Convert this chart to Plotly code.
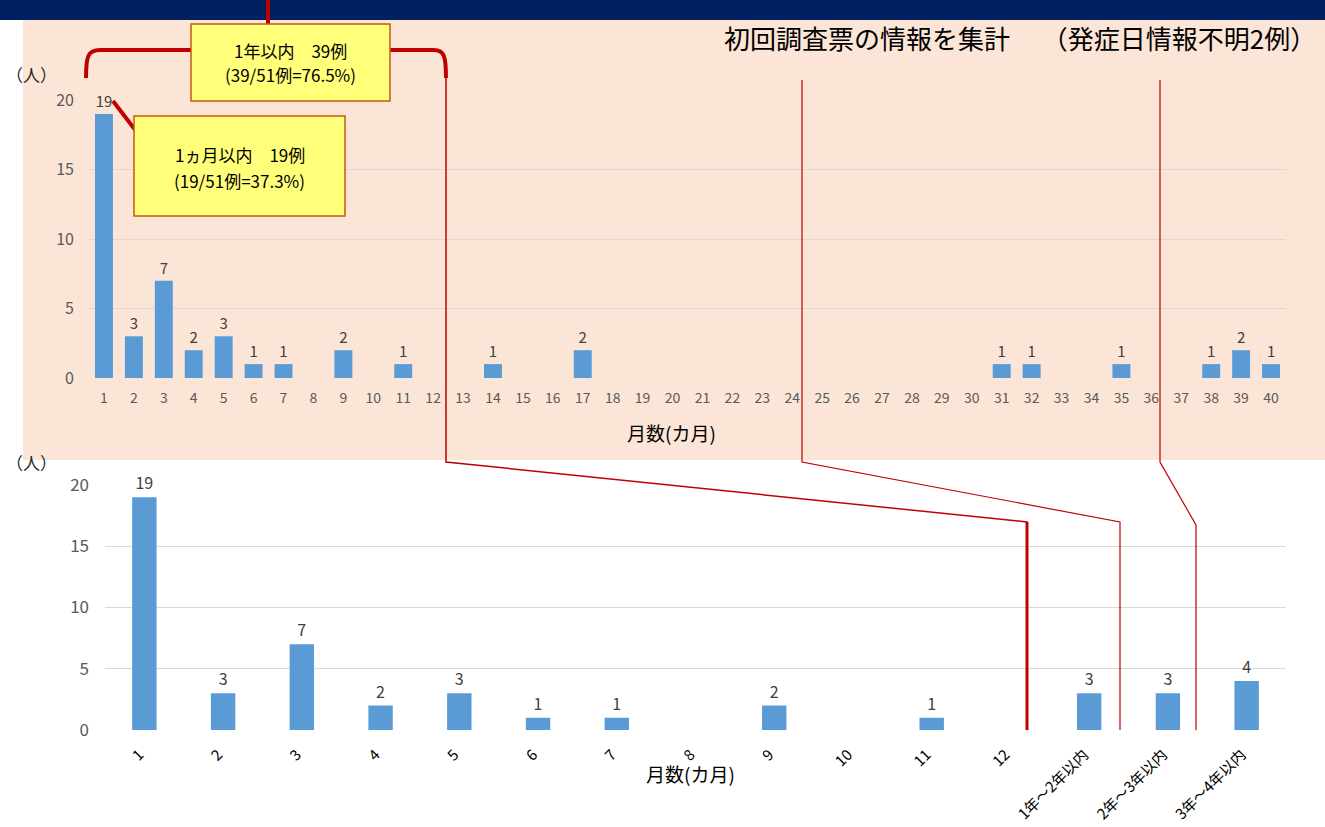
import plotly.graph_objects as go

W, H = 1325, 827

# ---- data ----
top_months = [str(i) for i in range(1, 41)]
top_counts = [19, 3, 7, 2, 3, 1, 1, 0, 2, 0, 1, 0, 0, 1, 0, 0, 2, 0, 0, 0,
              0, 0, 0, 0, 0, 0, 0, 0, 0, 0, 1, 1, 0, 0, 1, 0, 0, 1, 2, 1]
bottom_labels = [str(i) for i in range(1, 13)] + ["1年～2年以内", "2年～3年以内", "3年～4年以内"]
bottom_counts = [19, 3, 7, 2, 3, 1, 1, 0, 2, 0, 1, 0, 3, 3, 4]
y_ticks = [0, 5, 10, 15, 20]

title_text = "初回調査票の情報を集計　 （発症日情報不明2例）"
box1_lines = ["1年以内　39例", "(39/51例=76.5%)"]
box2_lines = ["1ヵ月以内　19例", "(19/51例=37.3%)"]
x_title = "月数(カ月)"
y_unit = "（人）"

JP = "Noto Sans CJK JP"
BAR = "#5B9BD5"
RED = "#C00000"
BOX_FILL = "#FFFF7A"
BOX_LINE = "#C65911"


def px(x):
    return x / W


def py(y):
    return 1 - y / H


fig = go.Figure()
fig.add_trace(go.Bar(
    x=top_months, y=top_counts, xaxis="x", yaxis="y",
    marker=dict(color=BAR, line=dict(width=0)),
    width=0.6, text=[str(v) if v else "" for v in top_counts],
    textposition="outside", cliponaxis=False,
    textfont=dict(family=JP, size=15, color="#404040"), hoverinfo="x+y",
))
fig.add_trace(go.Bar(
    x=bottom_labels, y=bottom_counts, xaxis="x2", yaxis="y2",
    marker=dict(color=BAR, line=dict(width=0)),
    width=0.31, text=[str(v) if v else "" for v in bottom_counts],
    textposition="outside", cliponaxis=False,
    textfont=dict(family=JP, size=16, color="#404040"), hoverinfo="x+y",
))

shapes = [
    # navy band & pink background
    dict(type="rect", xref="paper", yref="paper", x0=0, x1=1, y0=py(20), y1=1,
         fillcolor="#002060", line_width=0, layer="below"),
    dict(type="rect", xref="paper", yref="paper", x0=px(23), x1=1, y0=py(460), y1=py(20),
         fillcolor="#FBE5D6", line_width=0, layer="below"),
]


def path(points):
    return "M " + " L ".join(f"{px(x):.5f},{py(y):.5f}" for x, y in points)


# bracket over first year
shapes.append(dict(type="path", xref="paper", yref="paper",
                   path=(f"M {px(86):.5f},{py(78):.5f} C {px(86):.5f},{py(56):.5f} {px(88):.5f},{py(50):.5f} {px(100):.5f},{py(50):.5f} "
                         f"L {px(434):.5f},{py(50):.5f} C {px(444):.5f},{py(50):.5f} {px(446):.5f},{py(56):.5f} {px(446):.5f},{py(78):.5f}"),
                   line=dict(color=RED, width=4)))
shapes.append(dict(type="line", xref="paper", yref="paper", x0=px(268), x1=px(268),
                   y0=py(0), y1=py(26), line=dict(color=RED, width=4)))
# connector from "19" label to box
shapes.append(dict(type="line", xref="paper", yref="paper", x0=px(113), x1=px(136),
                   y0=py(101), y1=py(131), line=dict(color=RED, width=4)))
# yellow call-out boxes
shapes.append(dict(type="rect", xref="paper", yref="paper", x0=px(191), x1=px(390),
                   y0=py(101), y1=py(24), fillcolor=BOX_FILL,
                   line=dict(color=BOX_LINE, width=1.5)))
shapes.append(dict(type="rect", xref="paper", yref="paper", x0=px(134), x1=px(345),
                   y0=py(216), y1=py(116), fillcolor=BOX_FILL,
                   line=dict(color=BOX_LINE, width=1.5)))
# connecting lines between the two charts
shapes.append(dict(type="path", xref="paper", yref="paper",
                   path=path([(446, 78), (446, 462), (1027, 522), (1027, 730)]),
                   line=dict(color=RED, width=1.5)))
shapes.append(dict(type="line", xref="paper", yref="paper", x0=px(1027), x1=px(1027),
                   y0=py(522), y1=py(730), line=dict(color=RED, width=3)))
shapes.append(dict(type="path", xref="paper", yref="paper",
                   path=path([(802, 80), (802, 462), (1120, 522), (1120, 730)]),
                   line=dict(color=RED, width=1.2)))
shapes.append(dict(type="path", xref="paper", yref="paper",
                   path=path([(1160, 80), (1160, 462), (1196, 525), (1196, 730)]),
                   line=dict(color=RED, width=1.2)))


def label(text, x, y, size, color="#000000", anchor="center"):
    return dict(text=text, x=px(x), y=py(y), xref="paper", yref="paper",
                xanchor=anchor, yanchor="middle", showarrow=False,
                font=dict(family=JP, size=size, color=color))


annotations = [
    label(title_text, 1020, 38, 26),
    label(box1_lines[0], 290, 50, 17),
    label(box1_lines[1], 290, 75, 17),
    label(box2_lines[0], 240, 154, 17),
    label(box2_lines[1], 240, 180, 17),
    label(y_unit, 4, 75, 17, "#262626", "left"),
    label(y_unit, 4, 462, 17, "#262626", "left"),
    label(x_title, 672, 432, 19),
    label(x_title, 690, 773, 19),
]

fig.update_layout(
    width=W, height=H, margin=dict(l=0, r=0, t=0, b=0, autoexpand=False),
    paper_bgcolor="#FFFFFF", plot_bgcolor="rgba(0,0,0,0)",
    showlegend=False, font=dict(family=JP),
    shapes=shapes, annotations=annotations,
    xaxis=dict(domain=[px(89), px(1286)], type="category", anchor="y",
               showgrid=False, zeroline=False, showline=False, ticks="",
               automargin=False,
               tickfont=dict(family=JP, size=14, color="#595959"),
               tickangle=0, ticklabelstandoff=10),
    yaxis=dict(domain=[py(378), py(100)], range=[0, 20], anchor="x",
               tickvals=y_ticks, showgrid=True, gridcolor="#D9D9D9", gridwidth=1,
               zeroline=False, showline=False, ticks="", automargin=False,
               tickfont=dict(family=JP, size=16, color="#595959"),
               ticklabelstandoff=14),
    xaxis2=dict(domain=[px(105), px(1286)], type="category", anchor="y2",
                showgrid=False, zeroline=False, showline=False, ticks="",
                automargin=False,
                tickfont=dict(family=JP, size=15, color="#000000"),
                tickangle=-45, ticklabelstandoff=12, ticklabelshift=-5),
    yaxis2=dict(domain=[py(730), py(485)], range=[0, 20], anchor="x2",
                tickvals=y_ticks, showgrid=True, gridcolor="#D9D9D9", gridwidth=1,
                zeroline=False, showline=False, ticks="", automargin=False,
                tickfont=dict(family=JP, size=17, color="#595959"),
                ticklabelstandoff=15),
)

fig.write_html(
    "out.html",
    config={"displayModeBar": False},
    post_script="document.body.style.margin='0';document.body.style.overflow='hidden';",
)
